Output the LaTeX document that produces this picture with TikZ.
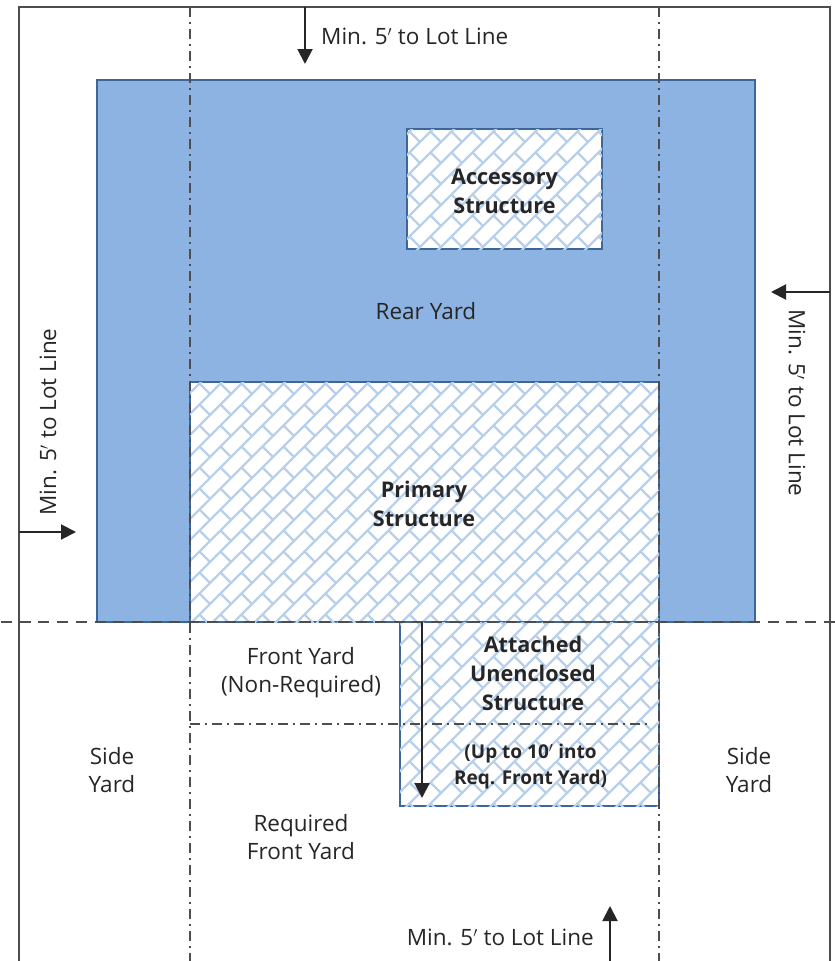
\documentclass[tikz,border=0pt]{standalone}
\usepackage{fontspec}
\setmainfont{Open Sans}
\usetikzlibrary{shapes,arrows.meta,patterns}
\definecolor{yardblue}{HTML}{8DB3E2}
\definecolor{edgeblue}{HTML}{3D6699}
\definecolor{brickblue}{HTML}{B9D0EA}
\definecolor{inkgrey}{HTML}{262626}
\definecolor{lotgrey}{HTML}{4D4D4D}
\pgfdeclarepatternformonly{diagbrick}{\pgfqpoint{-1pt}{-1pt}}{\pgfqpoint{22pt}{22pt}}{\pgfqpoint{21pt}{21pt}}{%
    \pgfsetlinewidth{2.4pt}
    \pgfpathmoveto{\pgfqpoint{-1pt}{-1pt}}
    \pgfpathlineto{\pgfqpoint{22pt}{22pt}}
    \pgfpathmoveto{\pgfqpoint{10.5pt}{10.5pt}}
    \pgfpathlineto{\pgfqpoint{21pt}{0pt}}
    \pgfusepath{stroke}}
\tikzstyle{yard} = [rectangle, draw=edgeblue, line width=1.5pt, fill=yardblue, inner sep=0pt]
\tikzstyle{structure} = [rectangle, draw=edgeblue, line width=2pt, fill=white, inner sep=0pt,
    postaction={pattern=diagbrick, pattern color=brickblue}]
\tikzstyle{label} = [text=inkgrey, align=center, font=\fontsize{22.5}{28}\selectfont, inner sep=0pt]
\tikzstyle{heading} = [label, font=\fontsize{21.6}{29}\selectfont\bfseries]
\tikzstyle{lot} = [draw=lotgrey, line width=2pt]
\tikzstyle{setback} = [draw=lotgrey, line width=2pt, dash pattern=on 10pt off 5pt on 2pt off 5pt]
\tikzstyle{frontline} = [draw=lotgrey, line width=2.2pt, dash pattern=on 11pt off 7.7pt]
\tikzstyle{line} = [draw=inkgrey, line width=2pt, -{Triangle[length=15pt,width=15pt]}]
\begin{document}
\begin{tikzpicture}[x=1pt, y=-1pt]
    \useasboundingbox (0,0) rectangle (835,961);
    % Place nodes
    \node [yard, minimum width=658pt, minimum height=542pt] (rear) at (426,351) {};
    \node [structure, minimum width=195pt, minimum height=120pt] (accessory) at (504.5,189) {};
    \node [structure, minimum width=469pt, minimum height=240pt] (primary) at (424.5,502) {};
    \node [structure, minimum width=259pt, minimum height=184pt] (attached) at (529.5,714) {};
    \node [label] (rearlabel) at (426,311) {Rear Yard};
    \node [heading] at (504.5,191) (accessorylabel) {Accessory\\Structure};
    \node [heading] at (424,504) (primarylabel) {Primary\\Structure};
    \node [heading] at (533,673) (attachedlabel) {Attached\\Unenclosed\\Structure};
    \node [label, font=\fontsize{19}{26}\selectfont\bfseries] at (530.5,767) (limitlabel) {(Up to 10$'$ into\\Req. Front Yard)};
    \node [label] at (301,673) (frontlabel) {Front Yard\\(Non-Required)};
    \node [label] at (301,837) (requiredlabel) {Required\\Front Yard};
    \node [label] at (112,770) (leftside) {Side\\Yard};
    \node [label] at (749,770) (rightside) {Side\\Yard};
    \node [label, anchor=west] at (321,36) (toplabel) {Min. 5$'$ to Lot Line};
    \node [label, anchor=east] at (594,937) (bottomlabel) {Min. 5$'$ to Lot Line};
    \node [label, rotate=90] at (48,422) (leftlabel) {Min. 5$'$ to Lot Line};
    \node [label, rotate=-90] at (797,403) (rightlabel) {Min. 5$'$ to Lot Line};
    % Place free ends
    \coordinate (lottl) at (19,7);
    \coordinate (lottr) at (830,7);
    \coordinate (lotbl) at (19,961);
    \coordinate (lotbr) at (830,961);
    \coordinate (westtop) at (190,7);
    \coordinate (westend) at (190,961);
    \coordinate (easttop) at (659,7);
    \coordinate (eastend) at (659,961);
    \coordinate (frontl) at (1,622);
    \coordinate (frontr) at (835,622);
    \coordinate (reqstart) at (190,724);
    \coordinate (reqend) at (650,724);
    \coordinate (topstart) at (305,7);
    \coordinate (topend) at (305,64);
    \coordinate (leftstart) at (19,532);
    \coordinate (leftend) at (76,532);
    \coordinate (rightstart) at (830,292);
    \coordinate (rightend) at (771,292);
    \coordinate (bottomstart) at (610,961);
    \coordinate (bottomend) at (610,906);
    \coordinate (depthstart) at (422,622);
    \coordinate (depthend) at (422,798);
    % Draw edges
    \path [lot] (lotbl) -- (lottl) -- (lottr) -- (lotbr);
    \path [setback] (westtop) -- (westend);
    \path [setback] (easttop) -- (eastend);
    \path [setback] (reqstart) -- (reqend);
    \path [frontline] (frontl) -- (frontr);
    \path [line] (topstart) -- (topend);
    \path [line] (leftstart) -- (leftend);
    \path [line] (rightstart) -- (rightend);
    \path [line] (bottomstart) -- (bottomend);
    \path [line] (depthstart) -- (depthend);
\end{tikzpicture}
\end{document}
